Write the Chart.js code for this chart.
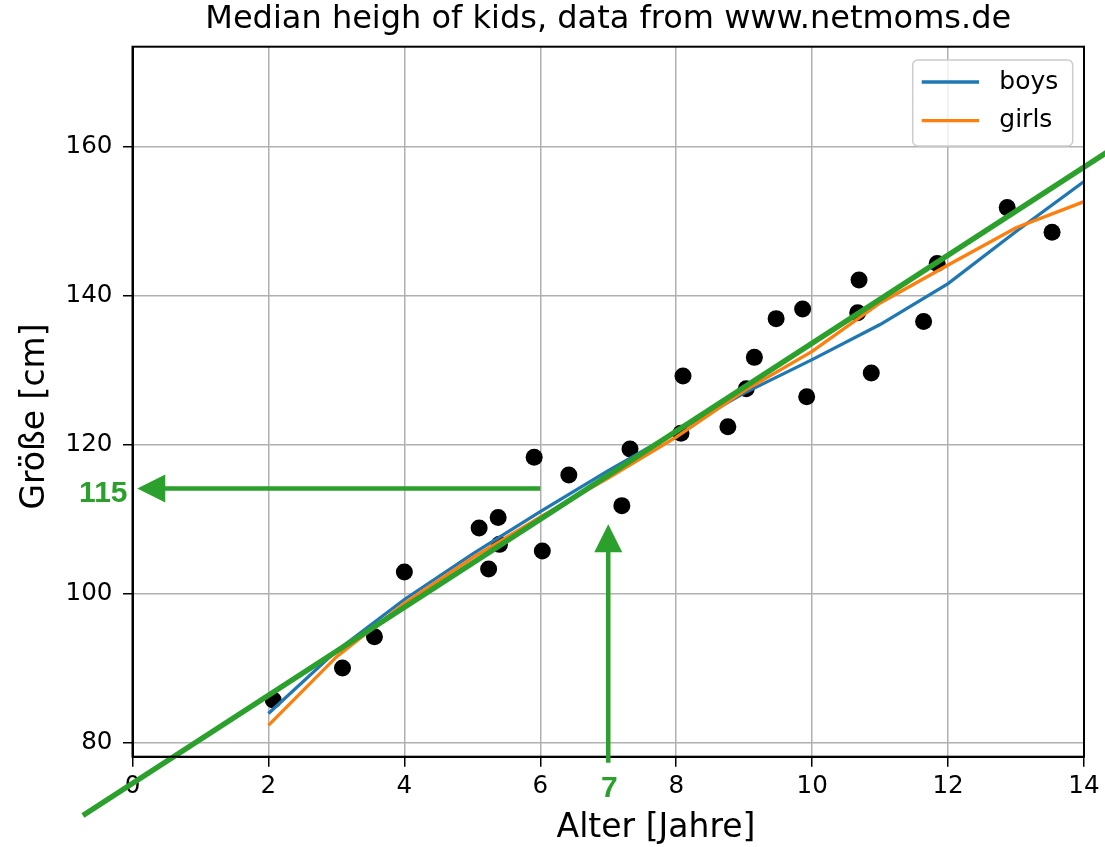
<!DOCTYPE html>
<html>
<head>
<meta charset="utf-8">
<script src="https://cdn.jsdelivr.net/npm/chart.js@4.4.0/dist/chart.umd.min.js"></script>
<style>
  html, body { margin: 0; padding: 0; background: #ffffff; }
  #wrap { width: 1105px; height: 847px; }
</style>
</head>
<body>
<div id="wrap"><canvas id="c" width="1105" height="847"></canvas></div>
<script>
// ---- data ----
const ages = [2, 3, 4, 5, 6, 7, 8, 9, 10, 11, 12, 13, 14];
const boysHeight = [83.9, 92.3, 99.2, 105.3, 111.0, 116.5, 121.7, 126.9, 131.4, 136.1, 141.6, 148.6, 155.3];
const girlsHeight = [82.3, 91.5, 98.7, 104.8, 110.3, 115.5, 121.0, 127.2, 132.5, 139.0, 144.1, 149.1, 152.6];

const sampleAges = [2.07, 3.09, 3.56, 4.00, 5.10, 5.24, 5.38, 5.40, 5.91, 6.03, 6.42, 7.20, 7.32, 8.07,
                    8.10, 8.76, 9.03, 9.15, 9.47, 9.86, 9.92, 10.67, 10.69, 10.87, 11.64, 11.84, 12.87, 13.53];
const sampleHeights = [85.7, 90.0, 94.2, 102.9, 108.8, 103.3, 110.2, 106.6, 118.3, 105.7, 115.9, 111.8, 119.4, 121.5,
                       129.2, 122.4, 127.5, 131.7, 136.9, 138.2, 126.4, 137.7, 142.1, 129.6, 136.5, 144.3, 151.8, 148.5];

const fitAges = [-0.73, 14.4];
const fitHeights = [70.2, 159.6];

const xTickValues = [0, 2, 4, 6, 8, 10, 12, 14];
const yTickValues = [80, 100, 120, 140, 160];

const readAge = 7;          // vertical arrow position / highlighted tick
const readAgeLabel = '7';
const readHeight = 114.1;   // horizontal arrow position
const readHeightLabel = '115';
const arrowHStart = 6;      // horizontal arrow starts at age 6
const arrowHEnd = 0.07;     // and points to the y axis
const arrowVStart = 77.3;   // vertical arrow starts below the axis
const arrowVEnd = 109.3;    // and points up to this height

const chartTitle = 'Median heigh of kids, data from www.netmoms.de';
const xTitle = 'Alter [Jahre]';
const yTitle = 'Größe [cm]';
const seriesNames = ['boys', 'girls'];

// ---- styles ----
const C_BLUE = '#1f77b4', C_ORANGE = '#ff7f0e', C_GREEN = '#2ca02c';
const FONT = "'DejaVu Sans', sans-serif";

const pts = (xs, ys) => xs.map((x, i) => ({ x: x, y: ys[i] }));

const frame = {
  id: 'frame',
  afterDatasetsDraw(chart) {
    const { ctx, chartArea: a } = chart;
    ctx.save();
    ctx.strokeStyle = '#000';
    ctx.lineWidth = 2;
    ctx.strokeRect(a.left, a.top, a.right - a.left, a.bottom - a.top);
    ctx.restore();
  }
};

const axisTitles = {
  id: 'axisTitles',
  afterDraw(chart) {
    const { ctx } = chart;
    ctx.save();
    ctx.fillStyle = '#000';
    ctx.font = "33px " + FONT;
    ctx.textBaseline = 'alphabetic';
    ctx.textAlign = 'center';
    ctx.fillText(xTitle, 656, 837);
    ctx.translate(43.5, 416.5);
    ctx.rotate(-Math.PI / 2);
    ctx.fillText(yTitle, 0, 0);
    ctx.restore();
  }
};

const annot = {
  id: 'annot',
  afterDraw(chart) {
    const { ctx } = chart;
    const xs = chart.scales.x, ys = chart.scales.y;
    const shaft = 4.5, headLen = 28, headHalf = 14;
    ctx.save();
    ctx.fillStyle = C_GREEN;
    // horizontal arrow
    let x0 = xs.getPixelForValue(arrowHStart), x1 = xs.getPixelForValue(arrowHEnd), y = ys.getPixelForValue(readHeight);
    ctx.beginPath();
    ctx.moveTo(x0, y - shaft / 2);
    ctx.lineTo(x1 + headLen, y - shaft / 2);
    ctx.lineTo(x1 + headLen, y - headHalf);
    ctx.lineTo(x1, y);
    ctx.lineTo(x1 + headLen, y + headHalf);
    ctx.lineTo(x1 + headLen, y + shaft / 2);
    ctx.lineTo(x0, y + shaft / 2);
    ctx.closePath();
    ctx.fill();
    // vertical arrow
    const x = xs.getPixelForValue(readAge);
    const y0 = ys.getPixelForValue(arrowVStart), y1 = ys.getPixelForValue(arrowVEnd);
    ctx.beginPath();
    ctx.moveTo(x - shaft / 2, y0);
    ctx.lineTo(x - shaft / 2, y1 + headLen);
    ctx.lineTo(x - headHalf, y1 + headLen);
    ctx.lineTo(x, y1);
    ctx.lineTo(x + headHalf, y1 + headLen);
    ctx.lineTo(x + shaft / 2, y1 + headLen);
    ctx.lineTo(x + shaft / 2, y0);
    ctx.closePath();
    ctx.fill();
    // labels
    ctx.font = "bold 30px 'Liberation Sans', Arial, sans-serif";
    ctx.textAlign = 'right';
    ctx.textBaseline = 'alphabetic';
    ctx.fillText(readHeightLabel, chart.chartArea.left - 5, y + 14);
    ctx.textAlign = 'center';
    ctx.fillText(readAgeLabel, x + 1, chart.chartArea.bottom + 40.6);
    ctx.restore();
  }
};

const legendBox = {
  id: 'legendBox',
  afterDraw(chart) {
    const { ctx } = chart;
    const L = 912.7, T = 60, W = 160, H = 86, r = 5;
    ctx.save();
    ctx.beginPath();
    ctx.moveTo(L + r, T);
    ctx.arcTo(L + W, T, L + W, T + H, r);
    ctx.arcTo(L + W, T + H, L, T + H, r);
    ctx.arcTo(L, T + H, L, T, r);
    ctx.arcTo(L, T, L + W, T, r);
    ctx.closePath();
    ctx.fillStyle = 'rgba(255,255,255,0.8)';
    ctx.fill();
    ctx.strokeStyle = '#cccccc';
    ctx.lineWidth = 1.5;
    ctx.stroke();
    const colors = [C_BLUE, C_ORANGE];
    const rows = [82, 120.7];
    ctx.font = "25px " + FONT;
    ctx.textAlign = 'left';
    ctx.textBaseline = 'middle';
    seriesNames.forEach((name, i) => {
      ctx.strokeStyle = colors[i];
      ctx.lineWidth = 3.3;
      ctx.beginPath();
      ctx.moveTo(921.7, rows[i]);
      ctx.lineTo(979, rows[i]);
      ctx.stroke();
      ctx.fillStyle = '#000';
      ctx.fillText(name, 999.3, rows[i]);
    });
    ctx.restore();
  }
};

new Chart(document.getElementById('c'), {
  type: 'line',
  data: {
    datasets: [
      { label: 'fit', data: pts(fitAges, fitHeights), borderColor: C_GREEN, borderWidth: 5.5,
        pointRadius: 0, clip: false, order: 0, tension: 0 },
      { label: seriesNames[1], data: pts(ages, girlsHeight), borderColor: C_ORANGE, borderWidth: 3.3,
        pointRadius: 0, order: 1, tension: 0 },
      { label: seriesNames[0], data: pts(ages, boysHeight), borderColor: C_BLUE, borderWidth: 3.3,
        pointRadius: 0, order: 2, tension: 0 },
      { label: 'samples', data: pts(sampleAges, sampleHeights), showLine: false,
        pointRadius: 8.5, pointBackgroundColor: '#000', pointBorderWidth: 0, borderColor: '#000', order: 3 }
    ]
  },
  options: {
    responsive: false,
    animation: false,
    layout: { padding: { left: 0, right: 21, top: 0, bottom: 0 } },
    plugins: {
      legend: { display: false },
      tooltip: { enabled: false },
      title: {
        display: true, text: chartTitle, color: '#000', fullSize: false,
        font: { family: FONT, size: 32, weight: 'normal', lineHeight: 1.2 },
        padding: { top: 0.4, bottom: 7.9 }
      }
    },
    scales: {
      x: {
        type: 'linear', min: 0, max: 14,
        afterBuildTicks: s => { s.ticks = xTickValues.map(v => ({ value: v })); },
        afterFit: s => { s.height = 90.3; },
        ticks: { color: '#000', font: { family: FONT, size: 24.6, lineHeight: 1.2 }, padding: 5, maxRotation: 0,
                 callback: v => String(v) },
        grid: { color: '#b0b0b0', lineWidth: 1.5, tickLength: 10, tickColor: '#000', tickWidth: 1.5 },
        border: { color: '#000', width: 2 },
        title: { display: false, text: xTitle }
      },
      y: {
        type: 'linear', min: 78.1, max: 173.4,
        afterBuildTicks: s => { s.ticks = yTickValues.map(v => ({ value: v })); },
        afterFit: s => { s.width = 132.5; },
        ticks: { color: '#000', font: { family: FONT, size: 24.6, lineHeight: 1.2 }, padding: 10.5,
                 callback: v => String(v) },
        grid: { color: '#b0b0b0', lineWidth: 1.5, tickLength: 9.5, tickColor: '#000', tickWidth: 1.5 },
        border: { color: '#000', width: 2 },
        title: { display: false, text: yTitle }
      }
    }
  },
  plugins: [frame, axisTitles, annot, legendBox]
});
</script>
</body>
</html>
